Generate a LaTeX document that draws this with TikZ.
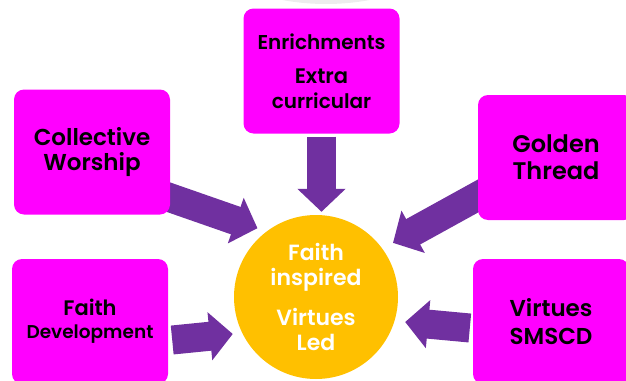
\documentclass[tikz,border=0pt]{standalone}
\usepackage{fontspec}
\setmainfont{Poppins}[BoldFont={Poppins SemiBold}]
\usetikzlibrary{arrows.meta,backgrounds}
\definecolor{boxpink}{HTML}{FF00FF}
\definecolor{pushpurple}{HTML}{7030A0}
\definecolor{hubgold}{HTML}{FFC000}

\begin{document}
\begin{tikzpicture}[x=1pt, y=-1pt,
    every node/.style={align=center},
    area/.style={rectangle, rounded corners=10pt, fill=boxpink, minimum width=156pt,
      minimum height=125pt, inner sep=0pt, font=\bfseries\fontsize{23}{25}\selectfont},
    hub/.style={circle, fill=hubgold, minimum size=164pt, inner sep=0pt, text=white,
      font=\bfseries\fontsize{22}{25}\selectfont},
    push/.style={line width=29pt, draw=pushpurple, -{Triangle[length=23pt, width=47pt]}}]
  \path[use as bounding box, clip] (0,0) rectangle (626,380);
  \fill[black!7] (326,-234.5) circle[radius=238.5pt];
  \node[hub] (hub) at (316,297) {Faith\\inspired\\[15pt]Virtues\\Led};
  \node[area, font=\bfseries\fontsize{20}{25}\selectfont] (enr) at (321.5,71)
    {Enrichments\\[9pt]\fontsize{21}{25}\selectfont Extra\\curricular};
  \node[area] (worship) at (92,152) {Collective\\Worship};
  \node[area, font=\bfseries\fontsize{24}{27}\selectfont] (thread) at (556,157.5) {Golden\\Thread};
  \node[area, font=\bfseries\fontsize{21}{23}\selectfont] (devel) at (90,321.5)
    {Faith\\\fontsize{18.5}{23}\selectfont Development};
  \node[area, font=\bfseries\fontsize{23}{28}\selectfont] (smscd) at (551,321.5) {Virtues\\SMSCD};
  \begin{pgfonlayer}{background}
    \draw[push, shorten >=3pt] ([yshift=-3pt]enr.south) -- (enr.south |- hub.north);
    \draw[push, shorten >=9.6pt] ([xshift=-8pt,yshift=-43pt]worship.east) -- (hub.127);
    \draw[push, shorten >=12pt] ([xshift=12pt,yshift=-32pt]thread.west) -- (hub.36);
    \draw[push, shorten >=9.4pt] ([xshift=4pt,yshift=-18.5pt]devel.east) -- (hub.206);
    \draw[push, shorten >=10.6pt] ([xshift=-3pt,yshift=-6.5pt]smscd.west) -- (hub.-17);
  \end{pgfonlayer}
\end{tikzpicture}
\end{document}
